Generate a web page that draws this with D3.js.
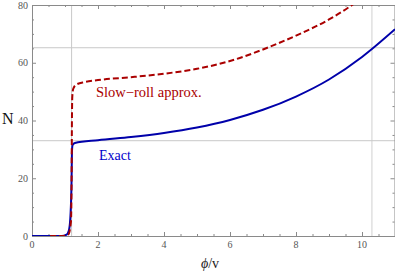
<!DOCTYPE html>
<html>
<head>
<meta charset="utf-8">
<script src="https://cdn.jsdelivr.net/npm/d3@7"></script>
<style>
  body { margin: 0; background: white; }
</style>
</head>
<body>
<div id="chart"></div>
<script>
"use strict";

// Values
const exactPhi = [0, 0.9, 1.05, 1.12, 1.17, 1.2, 1.21, 1.23, 1.3, 2, 3, 4, 5, 6, 7, 8, 9, 10, 11];
const exactN   = [0, 0, 0.5, 2, 8, 20, 29, 31.5, 32.2, 33.2, 34.3, 35.7, 37.6, 40.2, 43.7, 48.3, 54.2, 62.0, 71.6];

const slowPhi = [0.55, 0.9, 1.1, 1.18, 1.2, 1.21, 1.22, 1.25, 1.35, 1.6, 2, 3, 4, 5, 6, 7, 8, 9, 9.7, 9.8];
const slowN   = [0, 0, 0.5, 5, 20, 40, 48, 51, 52.5, 53.3, 54, 55, 56.2, 57.9, 60.6, 64.6, 69.4, 75.0, 80, 80.8];

const gridX = [1.2, 10.3];
const gridY = [33, 65.2];

const xTicks = [0, 2, 4, 6, 8, 10];
const yTicks = [0, 20, 40, 60, 80];

const width = 395, height = 274;
const margin = { left: 32, right: 0, top: 5, bottom: 38 };
const serif = "Liberation Serif, DejaVu Serif, serif";

const svg = d3.select("#chart").append("svg")
  .attr("width", width)
  .attr("height", height)
  .style("font-family", serif);

const x = d3.scaleLinear().domain([0, 11]).range([margin.left, width - margin.right]);
const y = d3.scaleLinear().domain([0, 80]).range([height - margin.bottom, margin.top]);

// clip for curves
svg.append("clipPath").attr("id", "clip")
  .append("rect")
  .attr("x", x(0)).attr("y", y(80))
  .attr("width", x(11) - x(0)).attr("height", y(0) - y(80));

// grid lines
svg.selectAll(".gx").data(gridX).enter().append("line")
  .attr("x1", d => x(d)).attr("x2", d => x(d))
  .attr("y1", y(0)).attr("y2", y(80))
  .attr("stroke", (d, i) => i === 0 ? "#c8c8c8" : "#e2e2e2")
  .attr("stroke-width", (d, i) => i === 0 ? 1 : 1.6);

svg.selectAll(".gy").data(gridY).enter().append("line")
  .attr("x1", x(0)).attr("x2", x(11))
  .attr("y1", d => y(d)).attr("y2", d => y(d))
  .attr("stroke", "#c8c8c8")
  .attr("stroke-width", 1);

// frame with ticks
const frameColor = "#8a8a8a";
const minorX = d3.range(0, 11.01, 0.5);
const minorY = d3.range(0, 80.01, 5);

// bottom axis
const gBottom = svg.append("g").attr("transform", `translate(0,${y(0)})`)
  .call(d3.axisTop(x).tickValues(minorX).tickSizeInner(2).tickSizeOuter(0).tickFormat(""));
gBottom.selectAll(".tick").filter(d => xTicks.includes(d)).select("line").attr("y2", -4);

// top axis
const gTop = svg.append("g").attr("transform", `translate(0,${y(80)})`)
  .call(d3.axisBottom(x).tickValues(minorX).tickSizeInner(2).tickSizeOuter(0).tickFormat(""));
gTop.selectAll(".tick").filter(d => xTicks.includes(d)).select("line").attr("y2", 4);

// left axis
const gLeft = svg.append("g").attr("transform", `translate(${x(0)},0)`)
  .call(d3.axisRight(y).tickValues(minorY).tickSizeInner(2).tickSizeOuter(0).tickFormat(""));
gLeft.selectAll(".tick").filter(d => yTicks.includes(d)).select("line").attr("x2", 4);

// right axis
const gRight = svg.append("g").attr("transform", `translate(${x(11) - 0.5},0)`)
  .call(d3.axisLeft(y).tickValues(minorY).tickSizeInner(2).tickSizeOuter(0).tickFormat(""));
gRight.selectAll(".tick").filter(d => yTicks.includes(d)).select("line").attr("x2", -4);

svg.selectAll(".domain, .tick line").attr("stroke", frameColor);

// tick labels
svg.selectAll(".xl").data(xTicks).enter().append("text")
  .attr("x", d => x(d)).attr("y", y(0) + 12)
  .attr("text-anchor", "middle")
  .style("font-family", serif)
  .attr("font-size", 10)
  .attr("fill", "#555")
  .text(d => d);

svg.selectAll(".yl").data(yTicks).enter().append("text")
  .attr("x", x(0) - 4).attr("y", d => y(d) + 3.5)
  .attr("text-anchor", "end")
  .style("font-family", serif)
  .attr("font-size", 10)
  .attr("fill", "#555")
  .text(d => d);

// axis titles
svg.append("text")
  .attr("x", 2).attr("y", 124)
  .style("font-family", serif)
  .attr("font-size", 16)
  .attr("fill", "#111")
  .text("N");

const xt = svg.append("text")
  .attr("x", 210).attr("y", 268)
  .attr("text-anchor", "middle")
  .style("font-family", serif)
  .attr("font-size", 14)
  .attr("fill", "#222");
xt.append("tspan").attr("font-style", "italic").text("ϕ");
xt.append("tspan").text("/v");

// curves
const line = d3.line()
  .x(d => x(d[0]))
  .y(d => y(d[1]))
  .curve(d3.curveMonotoneX);

const exactData = exactPhi.map((p, i) => [p, exactN[i]]);
const slowData = slowPhi.map((p, i) => [p, slowN[i]]);

const curves = svg.append("g").attr("clip-path", "url(#clip)");

curves.append("path")
  .datum(exactData)
  .attr("d", line)
  .attr("fill", "none")
  .attr("stroke", "#0000aa")
  .attr("stroke-width", 2);

curves.append("path")
  .datum(slowData)
  .attr("d", line)
  .attr("fill", "none")
  .attr("stroke", "#aa0000")
  .attr("stroke-width", 2)
  .attr("stroke-dasharray", "6,3");

// curve labels
svg.append("text")
  .attr("x", 96).attr("y", 97)
  .style("font-family", serif)
  .attr("font-size", 14.5)
  .attr("fill", "#aa0000")
  .text("Slow\u2212roll approx.");

svg.append("text")
  .attr("x", 99).attr("y", 160)
  .style("font-family", serif)
  .attr("font-size", 14)
  .attr("fill", "#0000cc")
  .text("Exact");
</script>
</body>
</html>
